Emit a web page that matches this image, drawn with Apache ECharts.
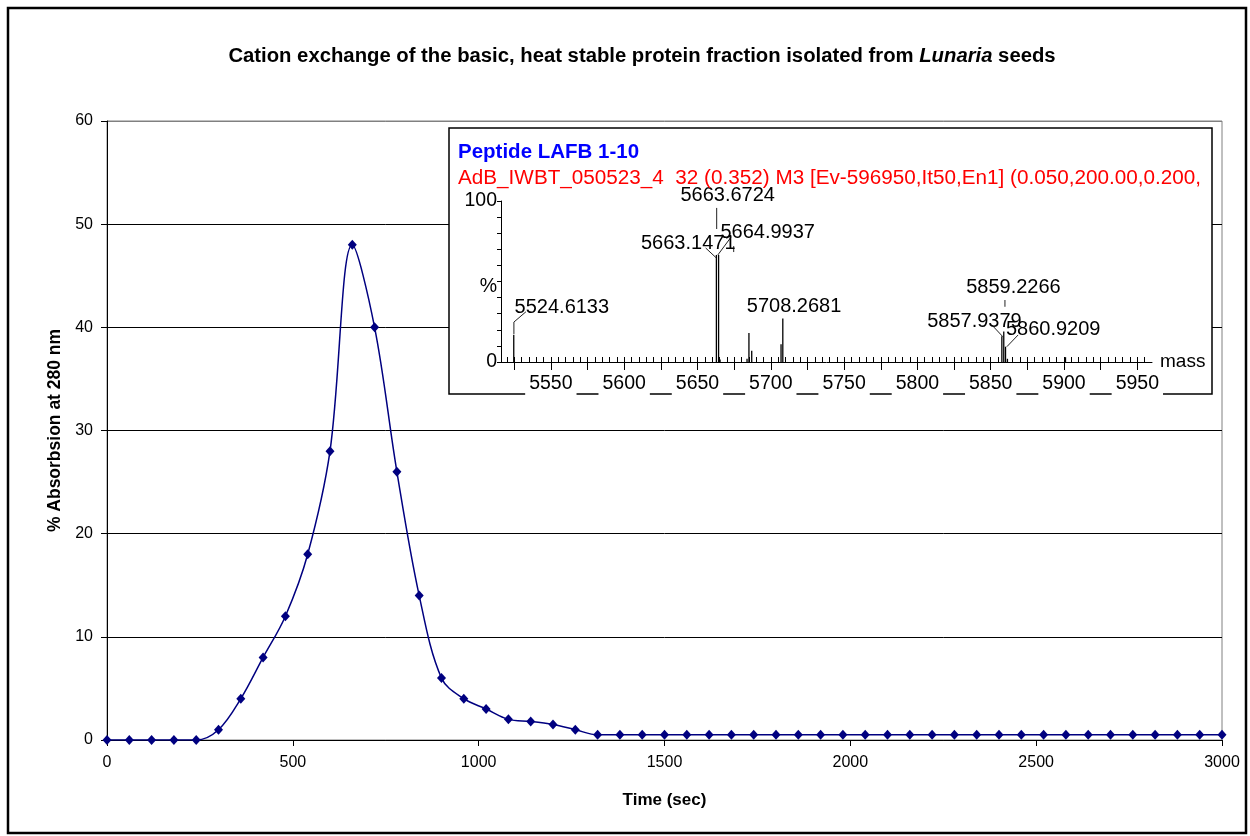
<!DOCTYPE html>
<html>
<head>
<meta charset="utf-8">
<script src="https://cdn.jsdelivr.net/npm/echarts@6/dist/echarts.min.js"></script>
<style>
  html, body { margin: 0; padding: 0; background: #fff; }
  #main { width: 1250px; height: 836px; }
</style>
</head>
<body>
<div id="main"></div>
<script>
// elution profile (time in sec, % absorbance at 280 nm)
var timeSec = [0, 60, 120, 180, 240, 300, 360, 420, 480, 540, 600, 660, 720, 780, 840, 900, 960, 1020, 1080, 1140, 1200, 1260, 1320,
	1380, 1440, 1500, 1560, 1620, 1680, 1740, 1800, 1860, 1920, 1980, 2040, 2100, 2160, 2220, 2280, 2340, 2400, 2460, 2520,
	2580, 2640, 2700, 2760, 2820, 2880, 2940, 3000];
var absorb = [0, 0, 0, 0, 0, 1, 4, 8, 12, 18, 28, 48, 40, 26, 14, 6, 4, 3, 2, 1.8, 1.5, 1, 0.5,
	0.5, 0.5, 0.5, 0.5, 0.5, 0.5, 0.5, 0.5, 0.5, 0.5, 0.5, 0.5, 0.5, 0.5, 0.5, 0.5, 0.5, 0.5, 0.5, 0.5,
	0.5, 0.5, 0.5, 0.5, 0.5, 0.5, 0.5, 0.5];

// inset mass spectrum: stick peaks (mass, % intensity as seen)
var peakMass = [5524.7, 5662.9, 5664.4, 5665.4, 5683.8, 5685.1, 5687.0, 5707.0, 5708.2, 5857.6, 5858.9, 5860.1, 5861.4, 5901.0];
var peakPct  = [17, 66.5, 66.5, 1.5, 2, 18, 7, 11, 27, 16, 19, 9.5, 2, 3];

// peak annotations
var peakNames   = ['5524.6133', '5663.6724', '5663.1471', '5664.9937', '5708.2681', '5859.2266', '5857.9379', '5860.9209'];
var peakLabelAt = [[5557.5, 34], [5670.6, 103.3], [5643.7, 73.9], [5697.9, 80.7], [5715.9, 34.3], [5865.5, 46], [5838.9, 25], [5892.6, 19.9]];
var leaderLines = [
	[[5524.8, 17.4], [5524.8, 24.8], [5533, 31.2]],
	[[5663.1, 82.6], [5663.1, 95.7]],
	[[5662.9, 64.6], [5655.6, 70.8]],
	[[5663.9, 66.5], [5673.1, 77.8]],
	[[5674.7, 68.3], [5674.7, 72]],
	[[5859.7, 34.3], [5859.7, 38.5]],
	[[5858.3, 15.7], [5851.9, 21.9]],
	[[5861.0, 9.5], [5868.7, 16.8]]
];

// axis ticks
var massLabels = [5550, 5600, 5650, 5700, 5750, 5800, 5850, 5900, 5950];
var massMajorTicks = [5525, 5550, 5575, 5600, 5625, 5650, 5675, 5700, 5725, 5750, 5775, 5800, 5825, 5850, 5875, 5900, 5925, 5950];
var massMinorTicks = [];
for (var m = 5520; m <= 5955; m += 5) massMinorTicks.push(m);
var pctTicks = [0, 10, 20, 30, 40, 50, 60, 70, 80, 90, 100];
var pctLabels = [0, 47, 100];

var FONT = 'Liberation Sans, Arial, Helvetica, sans-serif';

function plain(v){ return String(v); }

var chart = echarts.init(document.getElementById('main'), null, {renderer: 'canvas'});

var option = {
	animation: false,
	backgroundColor: '#fff',
	title: [
		{
			text: 'Cation exchange of the basic, heat stable protein fraction isolated from {i|Lunaria} seeds',
			left: 642,
			top: 46,
			padding: 0,
			textAlign: 'center',
			textStyle: {
				fontFamily: FONT, fontWeight: 'bold', fontSize: 20.3, color: '#000',
				rich: { i: { fontFamily: FONT, fontWeight: 'bold', fontStyle: 'italic', fontSize: 20.3, color: '#000' } }
			}
		},
		{
			text: 'Peptide LAFB 1-10',
			left: 458, top: 142, z: 30, padding: 0,
			textStyle: { fontFamily: FONT, fontWeight: 'bold', fontSize: 20.5, color: '#0000ff' }
		},
		{
			text: 'AdB_IWBT_050523_4  32 (0.352) M3 [Ev-596950,It50,En1] (0.050,200.00,0.200,',
			left: 458, top: 168, z: 30, padding: 0,
			textStyle: { fontFamily: FONT, fontWeight: 'normal', fontSize: 20.7, color: '#ff0000' }
		}
	],
	graphic: [
		{
			type: 'rect', z: 100, silent: true,
			shape: { x: 8, y: 8, width: 1238, height: 825 },
			style: { fill: 'none', stroke: '#000', lineWidth: 2.5 }
		},
		{
			type: 'rect', z: 5, silent: true,
			shape: { x: 449, y: 128, width: 763, height: 266 },
			style: { fill: '#fff', stroke: '#000', lineWidth: 1.5 }
		}
	],
	grid: [
		{ left: 107, right: 28, top: 121, bottom: 96, show: true, borderColor: '#808080', borderWidth: 1, backgroundColor: 'transparent' },
		{ left: 501, right: 98, top: 201, bottom: 474 }
	],
	xAxis: [
		{
			type: 'value', gridIndex: 0, min: 0, max: 3000, interval: 500,
			name: 'Time (sec)', nameLocation: 'middle', nameGap: 52,
			nameTextStyle: { fontFamily: FONT, fontWeight: 'bold', fontSize: 17, color: '#000' },
			axisLine: { show: true, onZero: false, lineStyle: { color: '#000', width: 1 } },
			axisTick: { show: true, length: 6, lineStyle: { color: '#000' } },
			axisLabel: { fontFamily: FONT, fontSize: 16, color: '#000', margin: 15, formatter: plain },
			splitLine: { show: false }
		},
		{
			type: 'value', gridIndex: 1, min: 5516, max: 5960, z: 20,
			name: 'mass', nameLocation: 'end', nameGap: 8,
			nameTextStyle: { fontFamily: FONT, fontSize: 19, color: '#000', padding: [8, 0, 0, 0] },
			axisLine: { show: true, onZero: false, lineStyle: { color: '#000', width: 1 } },
			axisTick: { show: true, length: 8, customValues: massMajorTicks, lineStyle: { color: '#000' } },
			axisLabel: {
				customValues: massLabels, fontFamily: FONT, fontSize: 19.5, color: '#000', margin: 11,
				backgroundColor: '#fff', padding: [1, 4, 3, 4], formatter: plain
			},
			splitLine: { show: false }
		},
		{
			type: 'value', gridIndex: 1, min: 5516, max: 5960, z: 20,
			axisLine: { show: false },
			axisTick: { show: true, length: 5, customValues: massMinorTicks, lineStyle: { color: '#000' } },
			axisLabel: { show: false },
			splitLine: { show: false }
		}
	],
	yAxis: [
		{
			type: 'value', gridIndex: 0, min: 0, max: 60, interval: 10,
			name: '% Absorbsion at 280 nm', nameLocation: 'middle', nameGap: 33,
			nameTextStyle: { fontFamily: FONT, fontWeight: 'bold', fontSize: 17.5, color: '#000' },
			axisLine: { show: true, lineStyle: { color: '#000', width: 1 } },
			axisTick: { show: true, length: 6, lineStyle: { color: '#000' } },
			axisLabel: { fontFamily: FONT, fontSize: 16, color: '#000', margin: 14 },
			splitLine: { show: true, lineStyle: { color: ['#000', '#000', '#000', '#000', '#000', '#000', '#808080'], width: 1 } }
		},
		{
			type: 'value', gridIndex: 1, min: 0, max: 100, z: 20,
			axisLine: { show: true, lineStyle: { color: '#000', width: 1 } },
			axisTick: { show: true, length: 4, customValues: pctTicks, lineStyle: { color: '#000' } },
			axisLabel: {
				customValues: pctLabels, fontFamily: FONT, fontSize: 19.5, color: '#000', margin: 4,
				formatter: function(v){ return v == 47 ? '%' : String(v); }
			},
			splitLine: { show: false }
		}
	],
	series: [
		{
			name: 'absorbance',
			type: 'line',
			xAxisIndex: 0, yAxisIndex: 0,
			smooth: 0.35,
			symbol: 'diamond',
			symbolSize: [9, 10],
			itemStyle: { color: '#000080' },
			lineStyle: { color: '#000080', width: 1.5 },
			data: timeSec.map(function(t, i){ return [t, absorb[i]]; })
		},
		{
			name: 'peaks',
			type: 'custom',
			xAxisIndex: 1, yAxisIndex: 1, z: 20,
			renderItem: function(params, api){
				var p0 = api.coord([api.value(0), 0]),
					p1 = api.coord([api.value(0), api.value(1)]);
				return {
					type: 'line',
					shape: { x1: p0[0], y1: p0[1], x2: p1[0], y2: p1[1] },
					style: { stroke: '#000', lineWidth: 1.3 }
				};
			},
			encode: { x: 0, y: 1 },
			data: peakMass.map(function(m, i){ return [m, peakPct[i]]; })
		},
		{
			name: 'leaders',
			type: 'custom',
			xAxisIndex: 1, yAxisIndex: 1, z: 21, clip: false,
			renderItem: function(params, api){
				var pts = leaderLines[api.value(2)].map(function(p){ return api.coord(p); });
				return {
					type: 'polyline',
					shape: { points: pts },
					style: { stroke: '#222', lineWidth: 1, fill: null }
				};
			},
			encode: { x: 0, y: 1 },
			data: leaderLines.map(function(l, i){ return [l[0][0], l[0][1], i]; })
		},
		{
			name: 'peak labels',
			type: 'scatter',
			xAxisIndex: 1, yAxisIndex: 1, z: 22, clip: false,
			symbolSize: 0,
			itemStyle: { opacity: 1 },
			label: {
				show: true, position: 'inside', formatter: '{b}',
				fontFamily: FONT, fontSize: 20, color: '#000', textBorderWidth: 0, opacity: 1
			},
			emphasis: { disabled: true },
			data: peakLabelAt.map(function(p, i){ return { name: peakNames[i], value: p }; })
		}
	]
};

chart.setOption(option);
</script>
</body>
</html>
